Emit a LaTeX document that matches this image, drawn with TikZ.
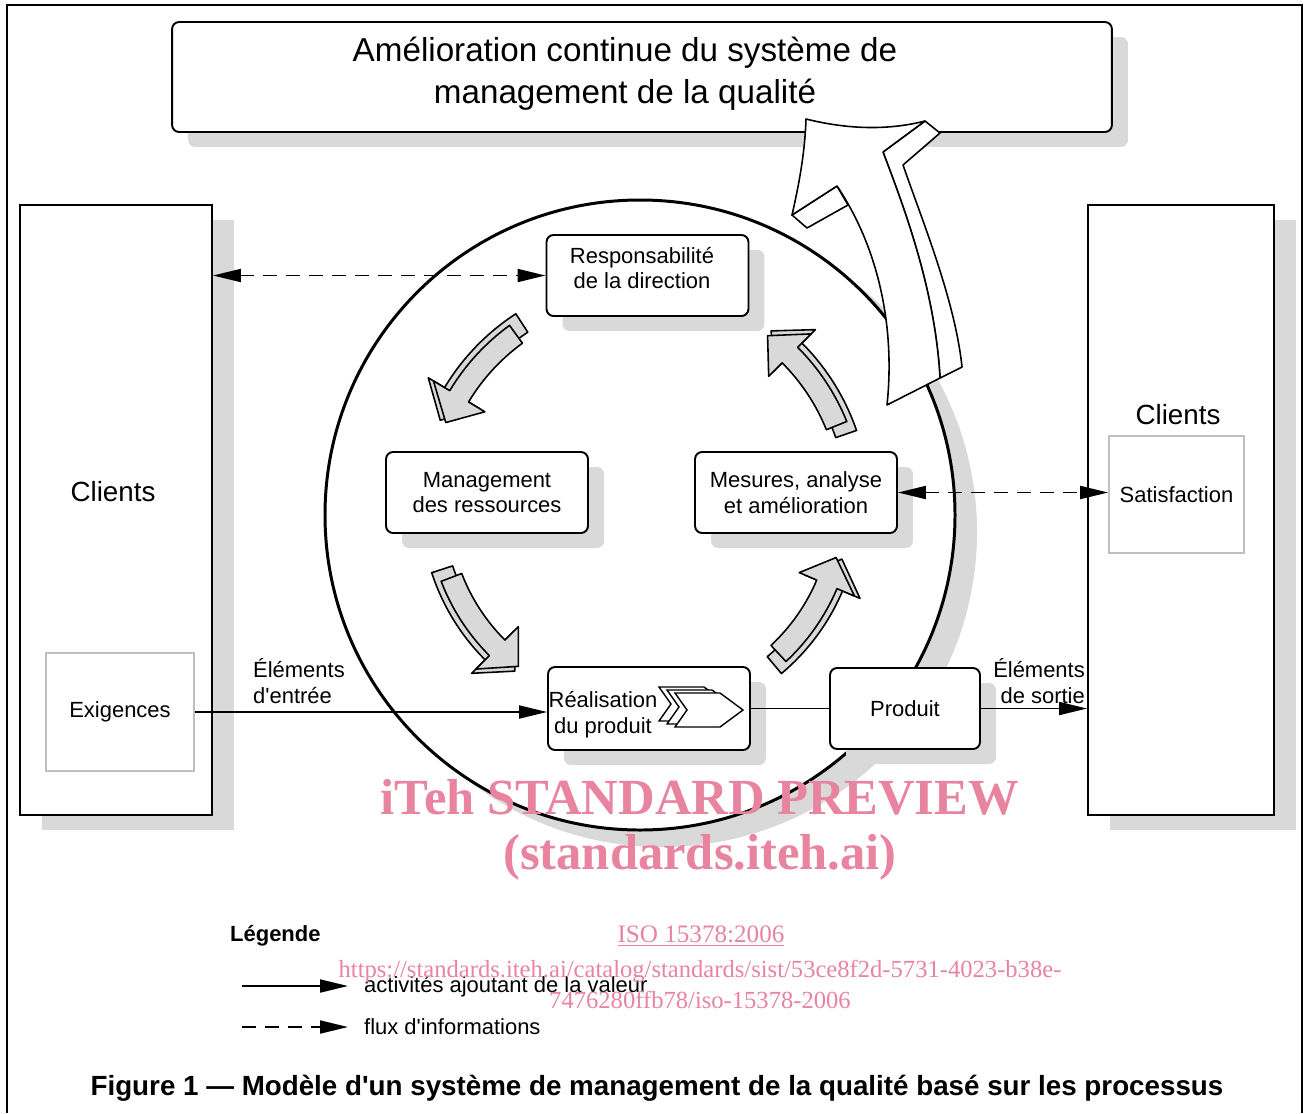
\documentclass[tikz,border=0pt]{standalone}
\usepackage{fontspec}
\setmainfont{Liberation Sans}[Ligatures=TeXOff]
\newfontfamily\wmfont{Liberation Serif}
\usepackage{xcolor}
\usetikzlibrary{shapes.geometric, arrows.meta, positioning, calc, shadows}

\definecolor{wmpink}{RGB}{232,132,160}
\definecolor{shadowgray}{RGB}{217,217,217}

\tikzset{
  >={Triangle[length=0.56cm, width=0.26cm]},
  boxshadow/.style={drop shadow={shadow xshift=0.32cm, shadow yshift=-0.3cm, fill=shadowgray, opacity=1}},
  procbox/.style={draw, line width=1.1pt, rounded corners=4pt, fill=white, align=center, minimum width=4.04cm, minimum height=1.62cm, font=\fontsize{12.5}{14.7}\selectfont, boxshadow},
  clientbox/.style={draw, line width=1.1pt, fill=white, minimum width=3.84cm, minimum height=12.2cm, drop shadow={shadow xshift=0.44cm, shadow yshift=-0.3cm, fill=shadowgray, opacity=1}},
  inbox/.style={draw=black!25, line width=1pt, fill=white, align=center, font=\fontsize{12.5}{14.7}\selectfont},
  lbl/.style={font=\fontsize{12.5}{14.7}\selectfont},
  bigtxt/.style={font=\fontsize{15.8}{18}\selectfont},
  flow/.style={line width=1.1pt},
  info/.style={line width=1.1pt, dash pattern=on 0.28cm off 0.18cm},
  sweep/.style={draw, line width=0.9pt, fill=shadowgray, line join=round},
  bigsweep/.style={draw, line width=0.9pt, fill=white, line join=round},
  wm/.style={text=wmpink, font=\wmfont\bfseries\fontsize{28.8}{30}\selectfont}
}

% curved grey arrow round the hub: tail angle, tip angle, radius
\newcommand{\bentarrow}[3]{%
  \pgfmathsetmacro{\bdir}{sign((#2)-(#1))}
  \pgfmathsetmacro{\bbarb}{(#2)-8*\bdir}
  \pgfmathsetmacro{\btail}{(#1)-3*\bdir}
  \draw[sweep, shift={(hub)}] ({\btail}:{#3+17}) arc[start angle=\btail, end angle=\bbarb, radius=#3+17] -- ({\bbarb}:{#3+36}) -- ({#2}:{#3+6}) -- ({\bbarb}:{#3-24}) -- ({\bbarb}:{#3-5}) arc[start angle=\bbarb, end angle=\btail, radius=#3-5] -- cycle;
  \draw[sweep, shift={(hub)}] ({#1}:{#3+11}) arc[start angle=#1, end angle=\bbarb, radius=#3+11] -- ({\bbarb}:{#3+30}) -- ({#2}:{#3}) -- ({\bbarb}:{#3-30}) -- ({\bbarb}:{#3-11}) arc[start angle=\bbarb, end angle=#1, radius=#3-11] -- cycle;
}

\begin{document}
\begin{tikzpicture}[x=0.02cm, y=-0.02cm]
\useasboundingbox (0,0) rectangle (1308,1113);
\draw[line width=1.4pt] (7,1113) -- (7,5) -- (1302,5) -- (1302,1113);

% Top box - continual improvement
\node[draw, line width=1.1pt, rounded corners=4pt, fill=white, minimum width=18.8cm, minimum height=2.2cm, boxshadow] (kaizen) at (642,77) {};
\node[align=center, font=\fontsize{18.9}{23.8}\selectfont] (kaizentxt) at (625,74) {Amélioration continue du système de\\management de la qualité};

% Customers on both sides
\node[clientbox] (clientL) at (116,510) {};
\node[clientbox, minimum width=3.72cm] (clientR) at (1181,510) {};
\node[bigtxt] (clientLtxt) at (113,492) {Clients};
\node[bigtxt] (clientRtxt) at (1178,415) {Clients};
\node[inbox, minimum width=2.96cm, minimum height=2.36cm] (exig) at (120,712) {Exigences};
\node[inbox, minimum width=2.7cm, minimum height=2.34cm] (sat) at (1176.5,494.5) {Satisfaction};

% Process loop
\coordinate (hub) at (640,505);
\fill[shadowgray] (662,532) circle[radius=315];
\draw[line width=1.7pt, fill=white] (640,515) circle[radius=315];

\node[procbox] (resp) at (647.5,275.5) {};
\node[lbl, align=center] (resptxt) at (642,268) {Responsabilité\\de la direction};
\node[procbox] (mgmt) at (487,492.5) {Management\\des ressources};
\node[procbox] (mes) at (796,492.5) {Mesures, analyse\\et amélioration};
\node[procbox, minimum height=1.66cm] (real) at (649,708.5) {};
\node[lbl, align=center] (realtxt) at (603,715) {Réalisation\\du produit};
\node[procbox, minimum width=3cm] (prod) at (905,708.5) {Produit};

% chevrons in the realisation box
\begin{scope}[shift={(real.center)}]
\foreach \dx/\dy in {-16/-6, -8/-3, 0/0}
  \draw[fill=white, line width=0.8pt, shift={(\dx,\dy)}] (26,-15.5) -- (71,-15.5) -- (94,1.5) -- (71,18.5) -- (26,18.5) -- (38,1.5) -- cycle;
\end{scope}

% Grey loop arrows
\bentarrow{-126}{-157}{211}
\bentarrow{159}{127}{202}
\bentarrow{47}{15}{203}
\bentarrow{-22}{-53}{212}

% Big arrow up to improvement
\draw[bigsweep] (925,121) -- (940,133) -- (903,165) .. controls (922,220) and (955,300) .. (962,367) -- (940,378) .. controls (935,290) and (905,210) .. (883,152) -- cycle;
\draw[bigsweep] (792,215) -- (807,228) -- (848,205) -- (837,186) -- cycle;
\draw[bigsweep] (806,119) .. controls (850,130) and (890,130) .. (925,121) -- (883,152) .. controls (905,210) and (935,290) .. (940,378) -- (887,405) .. controls (895,330) and (880,250) .. (837,186) -- (792,215) .. controls (800,180) and (805,150) .. (806,119) -- cycle;

% Arrows
\draw[<->, info] (resp.west -| clientL.east) -- (resp.west);
\draw[<->, info] (mes.east) -- (mes.east -| sat.west);
\draw[->, flow] (exig.east) -- (exig.east -| real.west);
\draw[flow] (real.east) -- (prod.west);
\draw[->, flow] (prod.east) -- (prod.east -| clientR.west);
\node[lbl, anchor=west, align=left] (inlbl) at (247,681) {Éléments\\d'entrée};
\node[lbl, anchor=east, align=right] (outlbl) at (1091,681) {Éléments\\de sortie};

% Legend
\node[font=\bfseries\fontsize{12.5}{14.7}\selectfont, anchor=west] (legtitle) at (224,936) {Légende};
\coordinate (solidstart) at (242,986);
\coordinate (dashstart) at (242,1027);
\node[lbl, anchor=west] (legsolid) at (358,987) {activités ajoutant de la valeur};
\node[lbl, anchor=west] (legdash) at (358,1027) {flux d'informations};
\draw[->, flow, shorten >=0.2cm] (solidstart) -- (solidstart -| legsolid.west);
\draw[->, info, shorten >=0.2cm] (dashstart) -- (dashstart -| legdash.west);

\node[font=\bfseries\fontsize{15.8}{18}\selectfont] (caption) at (657,1088) {Figure 1 — Modèle d'un système de management de la qualité basé sur les processus};

% Watermark
\node[wm] (wm1) at (700,797) {iTeh STANDARD PREVIEW};
\node[wm] (wm2) at (700,857) {(standards.iteh.ai)};
\node[text=wmpink, font=\wmfont\fontsize{14.3}{16}\selectfont] (wm3) at (701,936) {\underline{ISO 15378:2006}};
\node[text=wmpink, font=\wmfont\fontsize{14}{17.6}\selectfont, align=center] (wm4) at (700,984) {https://standards.iteh.ai/catalog/standards/sist/53ce8f2d-5731-4023-b38e-\\7476280ffb78/iso-15378-2006};
\end{tikzpicture}
\end{document}
